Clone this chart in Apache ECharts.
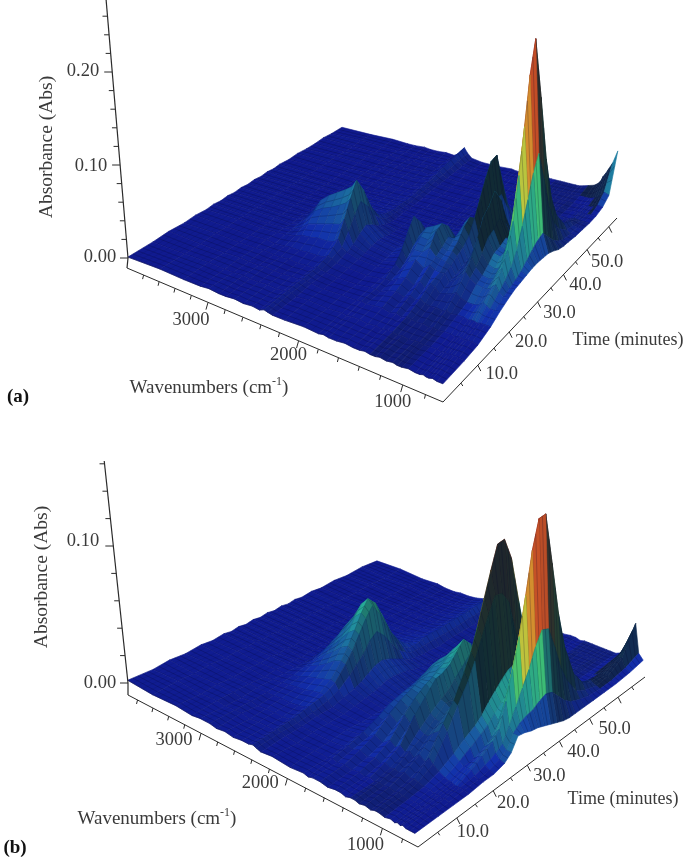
<!DOCTYPE html>
<html><head><meta charset="utf-8">
<style>html,body{margin:0;padding:0;background:#fff}#c{width:685px;height:859px}</style>
<script src="https://cdn.jsdelivr.net/npm/echarts@6/dist/echarts.min.js"></script></head>
<body><div id="c"></div>
<script>
// Wavenumber columns (cm-1), shared by both surfaces after the first value
const wavenumbers=[4020,3600,3300,3100,3000,2880,2800,2700,2600,2500,2420,2370,2330,2280,2150,1950,1800,1750,1700,1620,1540,1460,1400,1350,1300,1253,1210,1150,1090,1050,1010,950,890,850,820,795,770,740,700,650];
// Panel (a): time slices (min); absorbance in 0.001 Abs
const timesA=[0,6,10,14,17,20,22,24,26,28,30,32,34,36,38,40,42,45,48,51,54,57,60,64];
const a00=[1,2,1,1,2,1,1,2,1,2,1,3,2,1,1,2,1,2,1,1,2,1,1,2,1,1,2,1,2,1,1,2,1,1,2,1,1,2,1,1];
const a06=[1,1,2,1,1,2,1,1,2,1,2,4,3,1,2,1,2,1,2,2,1,2,1,2,2,1,2,1,2,2,1,2,2,1,2,1,2,2,2,1];
const a10=[2,1,1,2,1,1,2,1,1,2,2,4,3,2,1,2,2,3,2,3,4,2,4,2,4,3,2,3,2,3,2,3,3,2,3,3,2,3,3,2];
const a14=[1,2,1,1,2,1,1,2,1,2,2,5,3,2,1,1,3,3,2,6,8,5,9,6,9,6,5,6,5,7,5,6,6,5,6,6,5,6,6,6];
const a17=[2,1,1,2,1,2,3,3,4,4,5,8,6,3,2,1,3,5,4,9,13,8,14,9,15,13,8,10,12,15,11,9,9,10,12,14,12,10,10,11];
const a20=[1,2,1,2,3,5,8,9,11,11,13,17,10,6,3,2,4,11,7,17,22,16,21,18,17,18,11,15,21,26,21,17,16,16,18,21,23,17,14,15];
const a22=[2,1,1,2,3,9,15,18,21,24,26,33,21,9,4,2,6,20,12,24,24,31,24,23,22,20,12,18,27,35,26,20,19,20,25,29,33,22,16,17];
const a24=[1,2,2,1,5,15,24,30,34,39,44,50,33,15,6,3,10,33,19,32,31,42,28,26,27,24,14,21,35,48,34,25,23,25,32,39,45,29,18,18];
const a26=[2,1,1,2,6,19,31,39,45,51,57,65,43,19,7,4,13,44,25,36,40,45,33,31,32,27,16,22,45,64,44,31,29,34,46,58,68,40,21,19];
const a28=[1,2,1,2,4,15,23,30,34,38,43,49,33,14,5,3,10,33,19,28,30,37,26,34,41,33,20,20,46,70,47,32,30,49,70,91,108,59,26,20];
const a30=[2,1,2,1,3,8,13,16,19,21,23,27,18,8,3,2,6,18,11,18,18,22,16,39,46,46,27,22,53,80,53,35,33,65,96,127,152,80,31,20];
const a32=[1,2,1,2,2,4,6,8,9,10,11,13,9,4,2,1,3,9,5,10,10,12,9,31,38,62,35,18,44,66,44,30,36,81,123,165,200,102,35,19];
const a34=[2,1,1,2,1,2,3,4,5,5,5,7,4,2,1,2,2,4,3,6,6,6,5,19,22,78,45,11,29,41,29,21,38,92,142,192,233,117,37,18];
const a36=[1,2,1,1,2,2,2,3,3,4,4,5,3,1,2,1,2,3,2,4,4,4,4,10,11,91,52,7,18,23,18,14,30,68,104,140,169,86,28,15];
const a38=[2,1,2,1,1,2,1,2,3,2,3,4,3,2,1,2,1,2,2,3,3,3,3,6,6,93,52,4,12,15,12,10,20,42,63,84,101,52,19,11];
const a40=[1,2,1,2,1,1,2,2,2,3,3,4,2,1,2,1,2,2,1,2,3,2,3,4,4,59,34,4,9,10,9,8,14,25,36,47,56,30,13,9];
const a42=[2,1,1,1,2,1,1,2,2,2,3,3,2,1,1,2,1,2,2,2,2,3,2,3,3,30,18,3,7,7,7,6,10,16,22,28,33,19,9,8];
const a45=[1,1,2,1,1,2,1,2,1,2,2,4,3,1,2,1,1,2,1,2,2,2,2,2,3,12,7,3,5,6,5,5,6,9,12,14,16,10,7,6];
const a48=[2,1,1,2,1,1,2,1,2,1,3,5,3,2,1,1,2,1,2,2,1,2,2,2,2,5,3,3,4,4,4,4,4,5,7,8,10,7,6,5];
const a51=[1,2,1,1,2,1,1,2,1,2,3,6,4,2,1,2,1,2,1,2,2,1,2,2,2,3,2,2,3,3,3,3,3,3,4,5,4,4,4,4];
const a54=[1,1,2,1,1,2,1,1,2,1,4,8,5,2,1,1,2,1,2,1,2,2,1,2,2,2,2,2,2,3,3,2,3,3,3,4,3,3,4,4];
const a57=[2,1,1,2,1,1,2,1,2,1,5,10,6,2,2,1,1,2,1,2,1,2,2,2,2,2,2,2,2,2,2,2,2,3,3,3,3,4,7,6];
const a60=[1,2,1,1,2,1,1,2,1,2,6,12,7,3,1,2,1,1,2,1,2,2,2,2,2,2,2,2,2,2,2,3,3,3,4,5,6,8,14,12];
const a64=[1,1,2,1,1,2,1,1,2,1,6,14,8,3,1,1,2,1,1,2,2,2,2,2,2,2,2,2,2,2,3,5,7,10,14,20,24,30,38,53];
const surfaceA=[a00,a06,a10,a14,a17,a20,a22,a24,a26,a28,a30,a32,a34,a36,a38,a40,a42,a45,a48,a51,a54,a57,a60,a64];
// Panel (b)
const timesB=[0,6,10,14,18,21,24,26,28,30,32,34,36,38,40,42,44,46,49,52,56,60,65,70];
const b00=[2,1,2,1,2,2,1,2,1,2,2,3,2,1,2,1,2,1,2,2,1,2,2,1,2,2,1,2,1,2,2,1,2,1,2,1,2,1,1,1];
const b06=[1,2,1,2,1,2,2,1,2,2,2,4,3,2,1,2,2,3,2,3,2,3,2,3,2,3,2,3,2,3,2,2,2,2,1,2,1,2,1,1];
const b10=[2,1,2,2,1,2,1,2,2,2,3,5,3,2,2,2,3,5,4,6,4,6,4,6,4,5,4,6,4,5,4,3,3,2,2,2,1,2,1,1];
const b14=[1,2,1,2,2,2,2,3,3,4,5,7,4,3,2,3,5,8,6,10,7,11,8,11,8,10,7,11,8,12,9,6,4,3,3,2,2,2,2,1];
const b18=[2,1,2,1,2,3,4,5,6,8,9,9,6,3,2,2,5,12,11,18,14,22,18,25,17,15,15,19,22,28,24,11,8,6,6,6,6,3,2,2];
const b21=[1,2,1,2,2,4,5,8,10,12,14,13,9,5,3,2,6,16,15,23,20,29,25,33,23,21,20,26,31,39,37,16,12,6,8,9,10,5,3,2];
const b24=[2,1,2,2,2,6,9,12,16,21,23,22,15,7,4,2,7,18,18,26,25,34,31,41,28,27,25,31,42,54,49,20,16,9,11,13,15,8,5,4];
const b26=[1,2,1,2,2,7,11,17,22,28,31,29,20,9,5,3,7,19,21,28,28,36,35,42,31,26,24,28,51,65,60,24,19,12,15,18,20,11,8,8];
const b28=[2,1,2,1,2,9,15,21,28,36,40,38,25,12,6,3,7,20,23,28,31,39,41,45,36,30,26,30,62,80,73,30,24,20,26,31,36,20,16,16];
const b30=[1,2,1,2,3,11,18,27,35,45,50,47,32,15,8,4,8,22,26,32,36,43,46,51,41,32,28,34,76,97,86,35,28,30,38,47,55,30,20,15];
const b32=[2,1,2,1,2,12,20,31,40,52,58,54,36,16,8,3,9,24,29,35,40,47,52,57,46,34,30,38,89,114,97,40,32,40,52,66,75,40,22,13];
const b34=[1,2,1,2,2,11,18,28,36,47,52,45,30,14,7,3,8,21,26,31,35,42,46,51,41,36,32,40,101,130,96,44,35,50,70,88,101,50,23,12];
const b36=[2,1,2,1,2,8,13,20,27,35,39,31,21,11,6,3,6,16,19,23,26,30,34,37,30,36,32,40,105,131,87,45,35,62,88,112,130,63,26,10];
const b38=[1,2,1,2,1,5,9,14,18,23,25,19,13,8,4,3,5,10,13,15,17,20,22,24,20,30,28,34,89,115,62,38,32,72,102,132,150,72,28,8];
const b40=[2,1,1,2,2,3,5,8,11,14,16,12,9,5,3,2,4,7,9,10,11,13,14,15,13,22,20,25,64,83,40,28,30,70,100,128,151,70,26,6];
const b42=[1,2,2,1,2,2,3,5,7,8,10,8,6,4,3,2,3,5,6,6,7,8,9,10,8,15,14,17,41,53,24,18,24,53,76,97,113,54,20,4];
const b44=[2,1,1,2,1,2,3,4,5,6,8,8,6,3,2,2,3,4,5,5,5,6,6,7,6,10,9,11,25,32,15,12,18,36,50,64,75,36,14,3];
const b46=[1,2,1,1,2,1,2,3,4,5,7,9,6,3,2,1,2,3,3,4,4,4,5,5,4,9,9,10,15,19,10,8,12,24,33,42,48,24,10,3];
const b49=[2,1,2,1,1,2,2,2,3,4,6,10,6,2,2,2,2,2,3,3,3,3,3,3,3,6,5,6,8,10,6,5,8,13,17,21,24,12,7,3];
const b52=[1,1,2,1,2,1,2,2,3,4,6,9,6,3,1,2,2,2,2,2,3,2,3,3,3,4,4,4,5,6,5,4,5,8,10,12,13,8,5,3];
const b56=[2,1,1,2,1,2,1,2,2,4,7,10,6,3,2,1,2,2,2,2,2,3,2,3,2,3,3,3,4,4,3,3,3,4,7,7,6,5,4,3];
const b60=[1,2,1,1,2,1,2,2,3,4,7,10,7,3,2,2,1,2,2,2,3,2,3,2,3,3,2,3,3,4,3,3,3,4,5,6,6,6,4,3];
const b65=[2,1,2,1,1,2,1,2,3,5,8,11,7,3,2,2,2,2,1,2,2,3,2,3,2,3,3,3,3,3,3,3,4,6,8,10,12,12,6,4];
const b70=[1,2,1,2,1,1,2,2,3,5,8,12,7,3,2,1,2,2,2,2,2,3,3,2,3,3,3,3,3,3,3,3,5,9,14,20,26,32,10,6];
const surfaceB=[b00,b06,b10,b14,b18,b21,b24,b26,b28,b30,b32,b34,b36,b38,b40,b42,b44,b46,b49,b52,b56,b60,b65,b70];
// Tick labels
const wnTicks=[3000,2000,1000];
const timeTicks=[10,20,30,40,50];
const absTicksA=[0,0.1,0.2];
const absTicksB=[0,0.1];

const FONT='"Liberation Serif","Times New Roman",serif';
const INK='#3a3a3a';
const STOPS=[[0,16,24,140],[.06,18,48,172],[.15,24,85,160],[.25,30,125,160],[.35,40,175,150],[.42,70,210,120],[.48,190,225,70],[.58,240,190,50],[.72,220,90,40],[.88,170,30,20],[1,150,20,18]];
function ramp(t){t=Math.max(0,Math.min(1,t));for(let i=1;i<STOPS.length;i++){if(t<=STOPS[i][0]){const a=STOPS[i-1],b=STOPS[i],k=(t-a[0])/(b[0]-a[0]);return[a[1]+(b[1]-a[1])*k,a[2]+(b[2]-a[2])*k,a[3]+(b[3]-a[3])*k];}}return STOPS[STOPS.length-1].slice(1);}
function homography(q){const[x0,y0]=q[0],[x1,y1]=q[1],[x2,y2]=q[2],[x3,y3]=q[3];
 const dx1=x1-x2,dy1=y1-y2,dx2=x3-x2,dy2=y3-y2,sx=x0-x1+x2-x3,sy=y0-y1+y2-y3,den=dx1*dy2-dx2*dy1;
 const g=(sx*dy2-dx2*sy)/den,h=(dx1*sy-sx*dy1)/den;
 return{a:x1-x0+g*x1,b:x3-x0+h*x3,c:x0,d:y1-y0+g*y1,e:y3-y0+h*y3,f:y0,g,h};}

const panelA={name:'a',times:timesA,wnMax:4020,tMax:64,surface:surfaceA,quad:[[128,258],[443,385],[617,197],[342,128]],zScale:930,vp:[530,5000],
 off:[[-1,10],[0,17],[0,21]],absTicks:absTicksA,absTop:0.28,absMinor:0.02,timeEnd:60,
 wnLab:[[-17,18],[-10,14],[-10,17]],tLab:[[24,9],[22,10],[22,11],[22,11],[20,13]],absLab:[[100,257],[91,166],[83,71]],
 yTitle:[47,147],xTitle:[209,388],tTitle:[628,340],tag:[18,397],tagText:'(a)',maxZ:233};
const panelB={name:'b',times:timesB,wnMax:3925,tMax:70,surface:surfaceB,quad:[[128,683],[415,835],[643,668],[377,562]],zScale:1370,vp:[540,4530],
 off:[[0,12],[3,12],[2,9]],absTicks:absTicksB,absTop:0.162,absMinor:0.02,timeEnd:65,
 wnLab:[[-27,7],[-27,5],[-17,17]],tLab:[[16,14],[20,12],[22,11],[24,11],[25,11]],absLab:[[100,683],[83,541]],
 yTitle:[42,577],xTitle:[157,819],tTitle:[623,799],tag:[15,848],tagText:'(b)',maxZ:151};

function makeProj(P){const H=homography(P.quad);
 const ground=(u,v)=>{const w=1+H.g*u+H.h*v;return[(H.a*u+H.b*v+H.c)/w,(H.d*u+H.e*v+H.f)/w,w];};
 const uOf=wn=>(P.wnMax-wn)/(P.wnMax-650),vOf=t=>t/P.tMax;
 const at=(wn,t,z)=>{const u=uOf(wn),v=vOf(t),[gx,gy,w]=ground(u,v),hh=z*P.zScale/w,tilt=(gx-P.vp[0])/(P.vp[1]-gy);return[gx+hh*tilt,gy-hh];};
 const axisPt=(u,v)=>{const[gx,gy]=ground(u,v),o=P.off;return[gx+o[0][0]+(o[1][0]-o[0][0])*u+(o[2][0]-o[1][0])*v,gy+o[0][1]+(o[1][1]-o[0][1])*u+(o[2][1]-o[1][1])*v];};
 return{at,axisPt,uOf,vOf};}

const lerp=(a,b,f)=>[a[0]+(b[0]-a[0])*f,a[1]+(b[1]-a[1])*f];
function surfaceSeries(P){const pr=makeProj(P),T=P.times,W=wavenumbers.map((w,i)=>i===0?P.wnMax:w),S=P.surface;
 const quads=[];for(let r=T.length-2;r>=0;r--)for(let c=0;c<W.length-1;c++)quads.push([r,c]);
 const Z=(r,c)=>(S[r][c]||0)/1000;
 return{type:'custom',coordinateSystem:'cartesian2d',silent:true,clip:false,animation:false,progressive:0,z:2,data:quads,
  renderItem(params,api){const r=api.value(0),c=api.value(1);
   const pts=[[r,c],[r,c+1],[r+1,c+1],[r+1,c]].map(([i,j])=>api.coord(pr.at(W[j],T[i],Z(i,j))));
   const zm=(Z(r,c)+Z(r,c+1)+Z(r+1,c)+Z(r+1,c+1))/4;
   const du=(pr.uOf(W[c+1])-pr.uOf(W[c]))*340, dv=(pr.vOf(T[r+1])-pr.vOf(T[r]))*300;
   const sU=((Z(r,c+1)+Z(r+1,c+1))-(Z(r,c)+Z(r+1,c)))/2*P.zScale/du;
   const sV=((Z(r+1,c)+Z(r+1,c+1))-(Z(r,c)+Z(r,c+1)))/2*P.zScale/dv;
   let rel=zm/(P.maxZ/1000),s;
   if(W[c]<=950){
     if(T[r]>=P.tMax*.78 && W[c]>700 && zm>.004){s=.3;}        // dark flank of the late ridge
     else if(sV>=0){s=sU<-1?.9:1;rel=rel+.14*(1-rel)*Math.min(1,Math.max(0,(sV-.15)/.6));}
     else s=Math.max(.14,1/(1+2.2*Math.abs(sV)));
   }else if(W[c]<=1300){
     s=sU>=0?.8:Math.max(.07,1/(1+5*Math.abs(sU)));
     if(zm<.04)s=Math.max(s,.5);
     if(zm<.025)s=Math.max(s,.72);
   }else{
     s=sU>=0?1:Math.max(.55,1/(1+.6*Math.abs(sU)));
     if(zm<.012)s=Math.max(s,.8);
   }
   const b=ramp(rel);
   const rgb=[b[0]*s+16*(1-s),b[1]*s+34*(1-s),b[2]*s+44*(1-s)].map(Math.round);
   const col=`rgb(${rgb.join(',')})`;
   const kids=[{type:'polygon',shape:{points:pts},style:{fill:col,stroke:col,lineWidth:.6}},
    {type:'polyline',shape:{points:[pts[0],pts[1]]},style:{fill:null,stroke:'rgba(4,6,40,.55)',lineWidth:.7}}];
   const n=Math.max(1,Math.round((T[r+1]-T[r])*.75));
   for(let k=1;k<n;k++){const f=k/n;kids.push({type:'polyline',shape:{points:[lerp(pts[0],pts[3],f),lerp(pts[1],pts[2],f)]},style:{fill:null,stroke:'rgba(4,6,40,.38)',lineWidth:.6}});}
   const m=Math.max(1,Math.round((W[c]-W[c+1])/70));
   for(let k=0;k<m;k++){const f=k/m;kids.push({type:'polyline',shape:{points:[lerp(pts[0],pts[1],f),lerp(pts[3],pts[2],f)]},style:{fill:null,stroke:'rgba(4,6,40,.16)',lineWidth:.6}});}
   return{type:'group',children:kids};}};}

function axisSeries(P){const pr=makeProj(P),prims=[];
 const line=(a,b,w)=>prims.push({k:'l',a,b,w:w||1});
 const txt=(p,t,o)=>prims.push(Object.assign({k:'t',p,t},o||{}));
 const add=(p,d)=>[p[0]+d[0],p[1]+d[1]];
 const corner=pr.axisPt(0,0),near=pr.axisPt(1,0),far=pr.axisPt(1,1);
 line(corner,near);line(near,far);
 const z0=pr.at(P.wnMax,0,0),zTop=pr.at(P.wnMax,0,P.absTop);
 line(corner,z0,1.2);line(z0,zTop,1.2);
 for(let w=800;w<=3800;w+=200){const p=pr.axisPt(pr.uOf(w),0),maj=w%1000===0;line(p,add(p,maj?[-2,7]:[-1,4]));}
 for(let t=5;t<=P.timeEnd;t+=5){const p=pr.axisPt(1,pr.vOf(t)),maj=t%10===0;line(p,add(p,maj?[3,6]:[2,3]));}
 const nz=Math.round(P.absTop/P.absMinor);
 for(let i=0;i<=nz;i++){const z=i*P.absMinor,p=pr.at(P.wnMax,0,z),maj=i%5===0;line(p,add(p,maj?[-8,0]:[-5,0]));}
 wnTicks.forEach((w,i)=>txt(add(pr.axisPt(pr.uOf(w),0),P.wnLab[i]),String(w)));
 timeTicks.forEach((t,i)=>txt(add(pr.axisPt(1,pr.vOf(t)),P.tLab[i]),t.toFixed(1)));
 P.absTicks.forEach((z,i)=>txt(P.absLab[i],z.toFixed(2)));
 txt(P.yTitle,'Absorbance (Abs)',{rot:Math.PI/2,size:19.5});
 txt(P.tTitle,'Time (minutes)',{size:18});
 prims.push({k:'x',p:P.xTitle});
 txt(P.tag,P.tagText,{bold:true});
 return{type:'custom',coordinateSystem:'cartesian2d',silent:true,clip:false,animation:false,progressive:0,z:3,data:prims.map((_,i)=>[i,0]),
  renderItem(params,api){const q=prims[params.dataIndex];
   if(q.k==='l'){const a=api.coord(q.a),b=api.coord(q.b);return{type:'line',shape:{x1:a[0],y1:a[1],x2:b[0],y2:b[1]},style:{stroke:'#2a2a2a',lineWidth:q.w}};}
   const p=api.coord(q.p);
   if(q.k==='x')return{type:'text',x:p[0],y:p[1],style:{text:'{m|Wavenumbers (cm}{s|-1}{m|)}',align:'center',verticalAlign:'middle',rich:{m:{font:'19px '+FONT,fill:INK,lineHeight:24},s:{font:'12px '+FONT,fill:INK,verticalAlign:'top',lineHeight:24}}}};
   return{type:'text',x:p[0],y:p[1],rotation:q.rot||0,style:{text:q.t,font:(q.bold?'bold 19px ':(q.size||18.5)+'px ')+FONT,fill:q.bold?'#111':INK,align:'center',verticalAlign:'middle'}};}};}

const chart=echarts.init(document.getElementById('c'),null,{renderer:'canvas'});
chart.setOption({animation:false,backgroundColor:'#fff',tooltip:{show:false},
 grid:{left:0,right:0,top:0,bottom:0},
 xAxis:{type:'value',min:0,max:685,show:false},
 yAxis:{type:'value',min:0,max:859,inverse:true,show:false},
 series:[surfaceSeries(panelA),axisSeries(panelA),surfaceSeries(panelB),axisSeries(panelB)]});
</script></body></html>
